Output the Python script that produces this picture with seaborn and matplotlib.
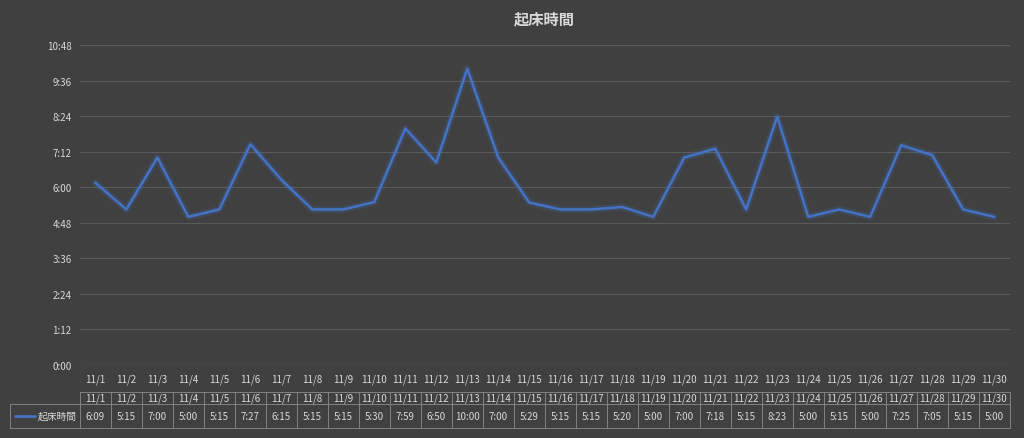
import seaborn as sns
import matplotlib
from matplotlib import pyplot as plt
import matplotlib.patheffects as pe
import pandas as pd

dates = ["11/%d" % d for d in range(1, 31)]
times = ["6:09", "5:15", "7:00", "5:00", "5:15", "7:27", "6:15", "5:15", "5:15", "5:30",
         "7:59", "6:50", "10:00", "7:00", "5:29", "5:15", "5:15", "5:20", "5:00", "7:00",
         "7:18", "5:15", "8:23", "5:00", "5:15", "5:00", "7:25", "7:05", "5:15", "5:00"]
series_name = "起床時間"
title = "起床時間"


def to_min(s):
    h, m = s.split(":")
    return int(h) * 60 + int(m)


df = pd.DataFrame({"pos": range(len(dates)), "minutes": [to_min(t) for t in times]})

sns.set_theme(style="dark")
plt.rcParams['font.family'] = ['Noto Sans CJK JP', 'DejaVu Sans']
bg = "#404040"
fg = "#d9d9d9"
line_color = "#4472c4"

fig = plt.figure(figsize=(10.24, 4.39), dpi=100, facecolor=bg)
ax = fig.add_axes([0.078, 1 - 366 / 439, 0.908, (366 - 46) / 439], facecolor=bg)

sns.lineplot(data=df, x="pos", y="minutes", ax=ax, color=line_color, linewidth=1.8,
             path_effects=[pe.Stroke(linewidth=5, foreground="#4472c4", alpha=0.2),
                           pe.Normal()])

ax.set_xlim(-0.5, len(dates) - 0.5)
ax.set_ylim(0, 648)
yt = list(range(0, 649, 72))
ax.set_yticks(yt)
ax.set_yticklabels(["%d:%02d" % (v // 60, v % 60) for v in yt], color=fg, fontsize=7)
ax.set_xticks(range(len(dates)))
ax.set_xticklabels(dates, color=fg, fontsize=7)
ax.tick_params(axis="both", length=0, pad=6)
ax.tick_params(axis="x", pad=6)
ax.yaxis.grid(True, color="#5a5a5a", linewidth=0.8)
ax.xaxis.grid(False)
for s in ax.spines.values():
    s.set_visible(False)
ax.axhline(0, color="#7a7a7a", linewidth=0.8)
ax.set_xlabel("")
ax.set_ylabel("")
fig.text(0.532, 0.955, title, ha="center", va="center", color=fg, fontsize=11, fontweight="bold")

# data table below the chart
tc = "#8c8c8c"
y_top, y_mid, y_bot = 1 - 393 / 439, 1 - 405 / 439, 1 - 429 / 439
x_left = 10 / 1024
trans = matplotlib.transforms.blended_transform_factory(ax.transData, fig.transFigure)
x0_fig, x1_fig = ax.get_position().x0, ax.get_position().x1
fig.add_artist(plt.Line2D([x0_fig, x1_fig], [y_top, y_top], color=tc, lw=0.6))
fig.add_artist(plt.Line2D([x_left, x1_fig], [y_mid, y_mid], color=tc, lw=0.6))
fig.add_artist(plt.Line2D([x_left, x1_fig], [y_bot, y_bot], color=tc, lw=0.6))
fig.add_artist(plt.Line2D([x_left, x_left], [y_bot, y_mid], color=tc, lw=0.6))
for i in range(len(dates) + 1):
    ax.add_line(plt.Line2D([i - 0.5, i - 0.5], [y_bot, y_top], color=tc, lw=0.6,
                           transform=trans, clip_on=False))
for i, (d, t) in enumerate(zip(dates, times)):
    ax.text(i, (y_top + y_mid) / 2, d, transform=trans, ha="center", va="center", color=fg, fontsize=7)
    ax.text(i, (y_mid + y_bot) / 2, t, transform=trans, ha="center", va="center", color=fg, fontsize=7)
ym = (y_mid + y_bot) / 2
fig.add_artist(plt.Line2D([0.015, 0.034], [ym, ym], color=line_color, lw=2))
fig.text(0.037, ym, series_name, ha="left", va="center", color=fg, fontsize=7)

fig.savefig("out.png", dpi=100, facecolor=bg)
